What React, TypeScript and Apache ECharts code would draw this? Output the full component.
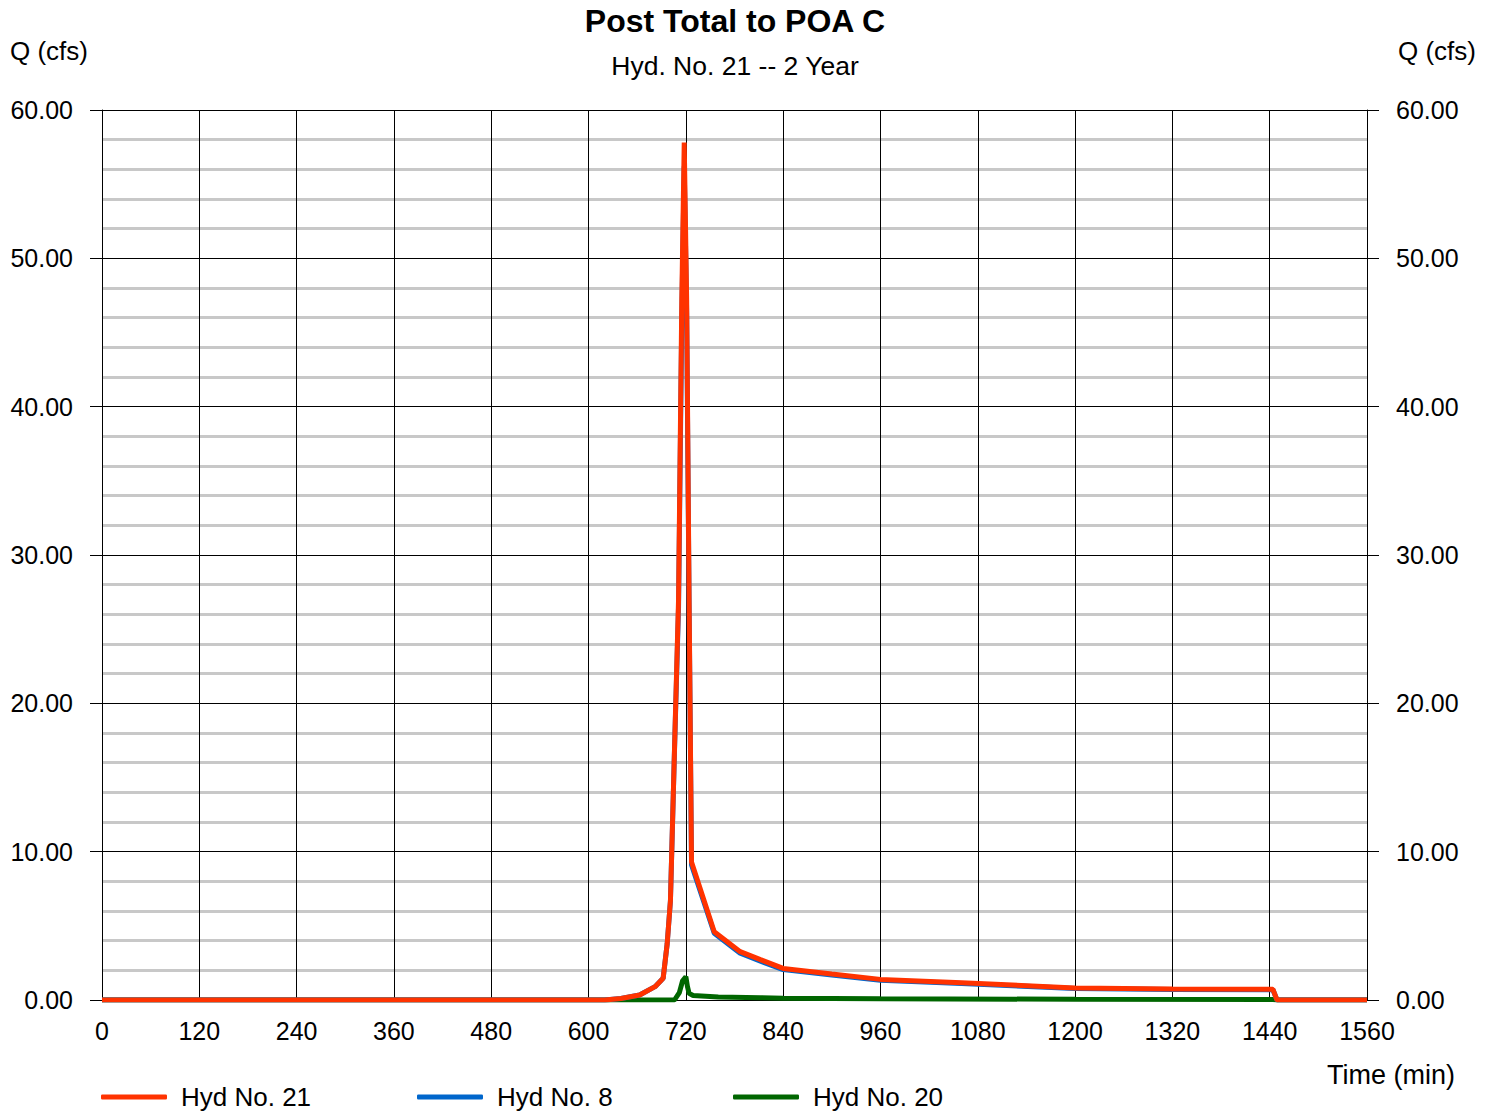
import React, { useEffect, useRef } from "react";
import * as echarts from "echarts";

const FONT = "'Liberation Sans', Arial, sans-serif";

const titleText = "Post Total to POA C";
const subtitleText = "Hyd. No. 21 -- 2 Year";
const yAxisName = "Q (cfs)";
const xAxisName = "Time (min)";

const seriesNames = ["Hyd No. 21", "Hyd No. 8", "Hyd No. 20"];
const seriesColors = ["#ff3300", "#0066cc", "#006600"];

// Hyd No. 21 (total)
const hyd21Times = [0, 620, 640, 663, 682, 692, 697, 701, 706, 711, 715, 718, 721, 724, 727, 755, 787, 812, 840, 900, 960, 1060, 1200, 1320, 1444, 1449, 1560];
const hyd21Flows = [0, 0, 0.1, 0.34, 0.9, 1.46, 3.8, 6.7, 16.9, 27.0, 47.2, 57.8, 47.2, 27.0, 9.3, 4.6, 3.26, 2.72, 2.13, 1.75, 1.39, 1.17, 0.81, 0.74, 0.72, 0, 0];

// Hyd No. 8
const hyd8Times = [0, 620, 640, 663, 682, 692, 697, 701, 706, 711, 715, 718, 721, 724, 727, 755, 787, 812, 840, 900, 960, 1060, 1200, 1320, 1444, 1449, 1560];
const hyd8Flows = [0, 0, 0.1, 0.34, 0.9, 1.46, 3.8, 6.7, 16.8, 26.5, 46.0, 56.2, 46.3, 26.6, 9.1, 4.5, 3.15, 2.62, 2.05, 1.68, 1.33, 1.12, 0.77, 0.71, 0.69, 0, 0];

// Hyd No. 20
const hyd20Times = [0, 706, 712, 716, 720, 722, 724, 729, 760, 812, 840, 960, 1200, 1444, 1449, 1560];
const hyd20Flows = [0, 0, 0.5, 1.3, 1.57, 0.9, 0.45, 0.3, 0.2, 0.16, 0.12, 0.08, 0.05, 0.04, 0, 0];

const xTicks = { min: 0, max: 1560, interval: 120 };
const yTicks = { min: 0, max: 60, interval: 10 };

function pairs(t: number[], v: number[]) {
  return t.map((x, i) => [x, v[i]]);
}

export default function App() {
  const ref = useRef<HTMLDivElement>(null);
  useEffect(() => {
    document.body.style.margin = "0";
    const chart = echarts.init(ref.current!, null, { renderer: "svg" });
    const yAxisBase = (pos: "left" | "right") => ({
      type: "value",
      position: pos,
      min: yTicks.min,
      max: yTicks.max,
      interval: yTicks.interval,
      axisLine: { show: true, lineStyle: { color: "#000", width: 1 } },
      axisTick: { show: true, inside: false, length: 12, lineStyle: { color: "#000", width: 1 } },
      axisLabel: {
        formatter: (v: number) => v.toFixed(2),
        fontSize: 25,
        color: "#000",
        fontFamily: FONT,
        margin: 29,
      },
      splitLine: { show: pos === "left", lineStyle: { color: "#000", width: 1 } },
      minorTick: { show: false, splitNumber: 5 },
      minorSplitLine: { show: pos === "left", lineStyle: { color: "#c8c8c8", width: 3 } },
    });
    const lineSeries = (idx: number, data: number[][]) => ({
      name: seriesNames[idx],
      type: "line",
      data,
      showSymbol: false,
      symbol: "none",
      lineStyle: { color: seriesColors[idx], width: 5 },
      itemStyle: { color: seriesColors[idx] },
      emphasis: { disabled: true },
      z: 3 - idx,
    });
    const legendAt = (idx: number, left: number) => ({
      data: [seriesNames[idx]],
      left,
      top: 1084,
      padding: 0,
      orient: "horizontal",
      icon: "roundRect",
      itemWidth: 66,
      itemHeight: 5,
      selectedMode: false,
      textStyle: { fontSize: 26, color: "#000", fontFamily: FONT, padding: [0, 0, 0, 9] },
    });
    chart.setOption({
      animation: false,
      backgroundColor: "#fff",
      grid: { left: 102, right: 129, top: 110, bottom: 112, containLabel: false },
      xAxis: {
        type: "value",
        min: xTicks.min,
        max: xTicks.max,
        interval: xTicks.interval,
        axisLine: { show: true, onZero: false, lineStyle: { color: "#000", width: 1 } },
        axisTick: { show: false },
        axisLabel: { fontSize: 25, color: "#000", fontFamily: FONT, margin: 18, formatter: (v: number) => String(v) },
        splitLine: { show: true, lineStyle: { color: "#000", width: 1 } },
      },
      yAxis: [yAxisBase("left"), yAxisBase("right")],
      legend: [legendAt(0, 101), legendAt(1, 417), legendAt(2, 733)],
      graphic: [
        { type: "text", x: 735, y: 21, style: { text: titleText, fontSize: 32, fontWeight: "bold", fill: "#000", fontFamily: FONT, textAlign: "center", textVerticalAlign: "middle" } },
        { type: "text", x: 735, y: 66, style: { text: subtitleText, fontSize: 26.5, fill: "#000", fontFamily: FONT, textAlign: "center", textVerticalAlign: "middle" } },
        { type: "text", x: 10, y: 51, style: { text: yAxisName, fontSize: 26, fill: "#000", fontFamily: FONT, textAlign: "left", textVerticalAlign: "middle" } },
        { type: "text", x: 1476, y: 51, style: { text: yAxisName, fontSize: 26, fill: "#000", fontFamily: FONT, textAlign: "right", textVerticalAlign: "middle" } },
        { type: "text", x: 1455, y: 1075, style: { text: xAxisName, fontSize: 27, fill: "#000", fontFamily: FONT, textAlign: "right", textVerticalAlign: "middle" } },
      ],
      series: [
        lineSeries(2, pairs(hyd20Times, hyd20Flows)),
        lineSeries(1, pairs(hyd8Times, hyd8Flows)),
        lineSeries(0, pairs(hyd21Times, hyd21Flows)),
      ],
    });
    return () => chart.dispose();
  }, []);
  return (
    <div
      ref={ref}
      style={{ position: "fixed", left: 0, top: 0, width: 1496, height: 1112, background: "#fff" }}
    />
  );
}
